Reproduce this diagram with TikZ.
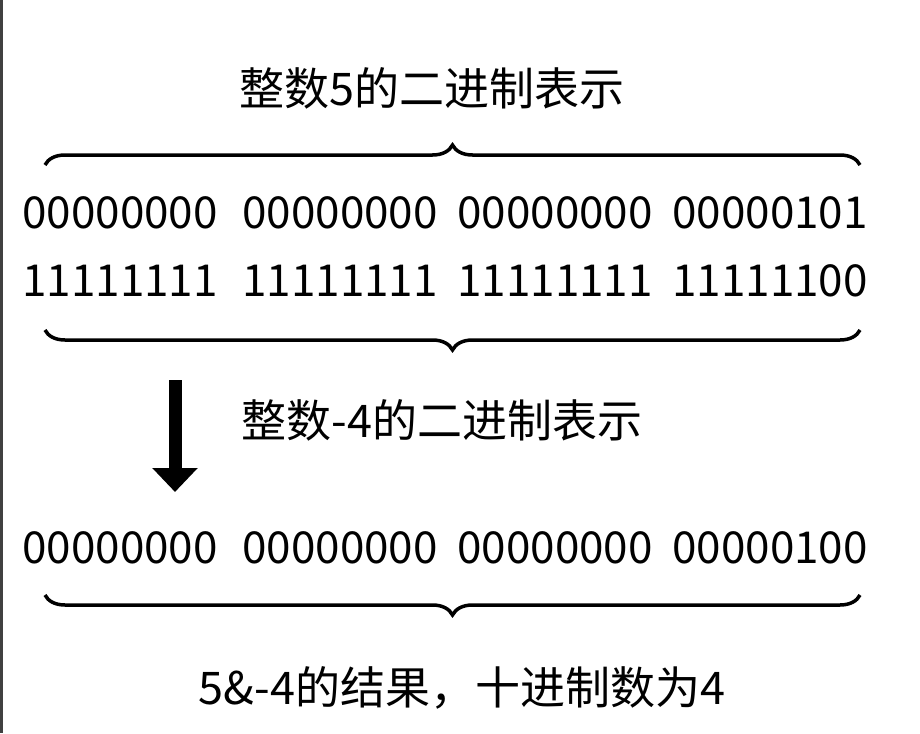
\documentclass[tikz,border=0pt]{standalone}
\usepackage{fontspec}
\setmainfont{Noto Sans CJK SC}
\usetikzlibrary{decorations.pathreplacing,arrows.meta}

\tikzset{
	bits/.style={inner sep=0pt,font=\fontsize{44}{48}\selectfont},
	caption/.style={inner sep=0pt,font=\fontsize{45}{50}\selectfont},
	curly/.style={decorate,decoration={brace,amplitude=20pt},line width=3.5pt}
}

\begin{document}
\begin{tikzpicture}[x=1pt,y=-1pt]
\useasboundingbox (0,0) rectangle (920,733);
\fill[black!75] (0,0) rectangle (3,733);
\node[caption] (top) at (432,88) {整数5的二进制表示};
\foreach \x/\n/\p/\q/\s in {120/a/00000000/11111111/00000000,340/b/00000000/11111111/00000000,555/c/00000000/11111111/00000000,770/d/00000101/11111100/00000100}
{
	\node[bits] (r1\n) at (\x,213) {\p};
	\node[bits] (r2\n) at (\x,281) {\q};
	\node[bits] (r3\n) at (\x,548) {\s};
}
\coordinate (b1l) at (45,165);
\coordinate (b1r) at (860,165);
\draw[curly] (b1l) -- (b1r);
\coordinate (b2l) at (45,330);
\coordinate (b2r) at (860,330);
\draw[curly] (b2r) -- (b2l);
\coordinate (b3l) at (45,595);
\coordinate (b3r) at (860,595);
\draw[curly] (b3r) -- (b3l);
\coordinate (up) at (175,380);
\coordinate (dn) at (175,492);
\draw[line width=13pt,-{Triangle[length=24pt,width=44pt]}] (up) -- (dn);
\node[caption] (mid) at (442,420) {整数-4的二进制表示};
\node[caption] (res) at (462,688) {5\&-4的结果，十进制数为4};
\end{tikzpicture}
\end{document}
